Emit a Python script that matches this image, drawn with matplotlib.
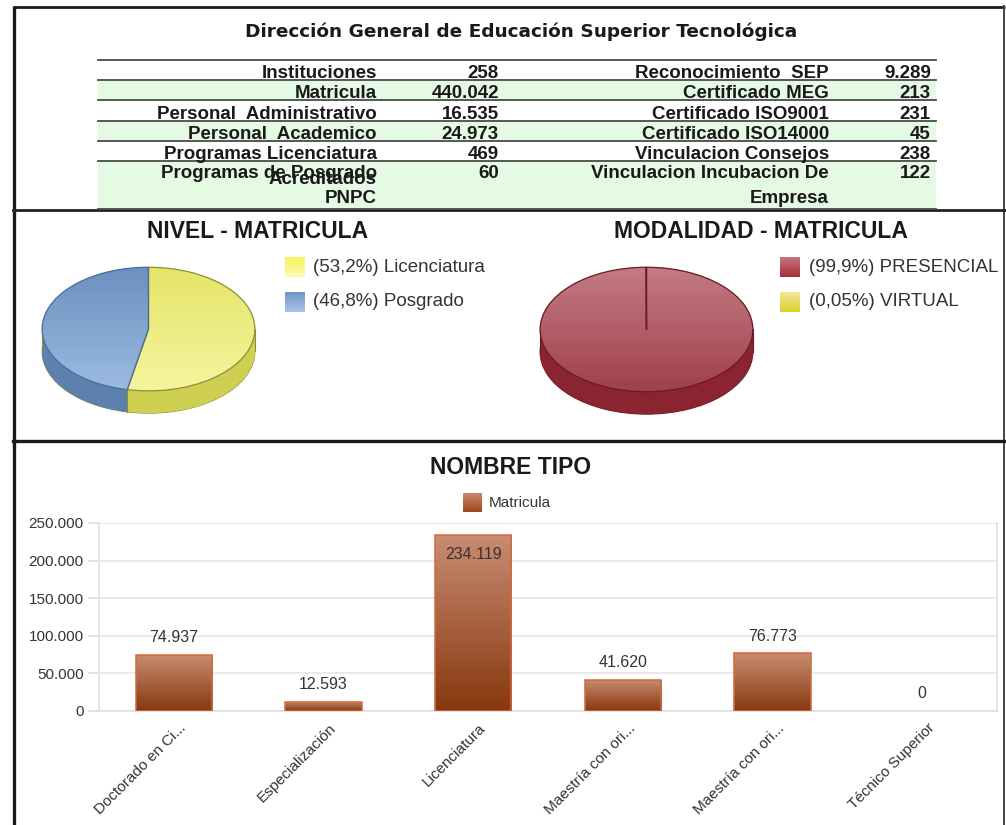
"""Tablero DGEST: tabla resumen, dos pasteles 3D y barras por tipo."""

import numpy as np
import matplotlib

matplotlib.use("Agg")
import matplotlib.pyplot as plt
import matplotlib.transforms as mtransforms
from matplotlib.colors import LinearSegmentedColormap
from matplotlib.patches import Rectangle

W, H = 1006, 825
DPI = 100

TITLE = "Dirección General de Educación Superior Tecnológica"
LEFT_LABELS = [
    "Instituciones",
    "Matricula",
    "Personal  Administrativo",
    "Personal  Academico",
    "Programas Licenciatura",
    "Programas de Posgrado\nAcreditados\nPNPC",
]
LEFT_VALUES = [258, 440042, 16535, 24973, 469, 60]
RIGHT_LABELS = [
    "Reconocimiento  SEP",
    "Certificado MEG",
    "Certificado ISO9001",
    "Certificado ISO14000",
    "Vinculacion Consejos",
    "Vinculacion Incubacion De\nEmpresa",
]
RIGHT_VALUES = [9289, 213, 231, 45, 238, 122]

NIVEL_LABELS = ["Licenciatura", "Posgrado"]
NIVEL_SHARE = [53.2, 46.8]
NIVEL_PCT = ["53,2%", "46,8%"]

MODALIDAD_LABELS = ["PRESENCIAL", "VIRTUAL"]
MODALIDAD_SHARE = [99.95, 0.05]
MODALIDAD_PCT = ["99,9%", "0,05%"]

TIPO_LABELS = [
    "Doctorado en Ci...",
    "Especialización",
    "Licenciatura",
    "Maestría con ori...",
    "Maestría con ori...",
    "Técnico Superior",
]
TIPO_VALUES = [74937, 12593, 234119, 41620, 76773, 0]

INK = "#1A1A1A"
TEXT = "#333333"
GREEN_ROW = "#E4FAE2"
RULE = "#4A4A4A"

NARROW = ["Liberation Sans Narrow", "Liberation Sans", "DejaVu Sans"]
ARIAL = ["Liberation Sans", "DejaVu Sans"]


def miles(v):
    return f"{v:,.0f}".replace(",", ".")


def px_axes(fig, x0, y0, x1, y1):
    return fig.add_axes([x0 / W, 1 - y1 / H, (x1 - x0) / W, (y1 - y0) / H])


def gradient_fill(ax, patch, top, bottom, extent, zorder):
    cmap = LinearSegmentedColormap.from_list("g", [bottom, top])
    im = ax.imshow(
        np.linspace(0, 1, 64).reshape(-1, 1),
        cmap=cmap,
        extent=extent,
        origin="lower",
        aspect="auto",
        interpolation="bilinear",
        zorder=zorder,
    )
    im.set_clip_path(patch)
    return im


def legend_square(ax, x, y, size, top, bottom):
    sq = Rectangle((x, y), size, size, facecolor="none", edgecolor="none",
                   linewidth=0, zorder=5)
    ax.add_patch(sq)
    gradient_fill(ax, sq, top, bottom, (x, x + size, y + size, y), zorder=4)


def pie_3d(ax, shares, top_cols, side_cols, edge_cols, depth=0.36):
    n_layers = 30
    for k in np.linspace(-depth, 0, n_layers):
        ax.pie(shares, colors=side_cols, startangle=90, counterclock=False,
               center=(0, k), wedgeprops=dict(linewidth=0, zorder=1))
    # outline of the base
    ax.pie(shares, colors=side_cols, startangle=90, counterclock=False,
           center=(0, -depth),
           wedgeprops=dict(linewidth=0.8, edgecolor=edge_cols[0], zorder=0.5))
    for side in (-1, 1):
        ax.plot([side, side], [0, -depth], color=edge_cols[0], lw=0.8, zorder=1.5)
    # visible slice seams on the front side
    ang = 90.0
    for s in shares:
        ang -= 360.0 * s / sum(shares)
        a = np.deg2rad(ang)
        if np.sin(a) < -0.05:
            ax.plot([np.cos(a)] * 2, [np.sin(a), np.sin(a) - depth],
                    color=edge_cols[0], lw=0.8, zorder=1.5)
    # top face with gradient
    wedges, _ = ax.pie(shares, colors=side_cols, startangle=90,
                       counterclock=False,
                       wedgeprops=dict(facecolor="none", linewidth=0.9, zorder=3))
    for w, (ct, cb), ce in zip(wedges, top_cols, edge_cols):
        w.set_edgecolor(ce)
        gradient_fill(ax, w, ct, cb, (-1.05, 1.05, -1.05, 1.05), zorder=2)
    ax.set_aspect("auto")
    ax.set_xlim(-1.02, 1.02)
    ax.set_ylim(-1 - depth - 0.03, 1.02)
    ax.axis("off")


fig = plt.figure(figsize=(W / DPI, H / DPI), dpi=DPI)
fig.patch.set_facecolor("white")

bg = fig.add_axes([0, 0, 1, 1])
bg.set_xlim(0, W)
bg.set_ylim(H, 0)
bg.axis("off")

# panel frames
bg.plot([14, 14], [6, H], color=INK, lw=2.4, solid_capstyle="butt")
bg.plot([13, 1005], [7, 7], color=INK, lw=2.0, solid_capstyle="butt")
bg.plot([1004, 1004], [6, H], color="#444444", lw=1.4)
bg.plot([13, 1005], [210, 210], color="#222222", lw=2.0)
bg.plot([13, 1005], [441, 441], color=INK, lw=2.4)

# ---- top table
bg.text(521, 32, TITLE, ha="center", va="center", fontsize=13.3,
        fontweight="bold", family=["DejaVu Sans"], color=INK)

row_lines = [60, 80, 100, 121, 141, 161, 209]
x_left, x_right = 98, 936
for i in range(len(LEFT_LABELS)):
    if i % 2 == 1:
        bg.add_patch(Rectangle((x_left, row_lines[i]), x_right - x_left,
                               row_lines[i + 1] - row_lines[i],
                               facecolor=GREEN_ROW, edgecolor="none", zorder=0))
for y in row_lines:
    bg.plot([x_left, x_right], [y, y], color=RULE, lw=1.3, zorder=2)

line_offsets = {1: [0], 2: [0, 25], 3: [0, 6, 25]}
cell_font = dict(fontsize=13.5, fontweight="bold", family=NARROW, color=INK,
                 va="baseline", ha="right", zorder=3)
columns = [(LEFT_LABELS, LEFT_VALUES, 377, 499),
           (RIGHT_LABELS, RIGHT_VALUES, 829, 931)]
for labels, values, x_lab, x_val in columns:
    for i, (lab, val) in enumerate(zip(labels, values)):
        parts = lab.split("\n")
        if len(parts) == 1:
            base = row_lines[i + 1] - 2
        else:
            base = row_lines[i] + 17
        for part, off in zip(parts, line_offsets[len(parts)]):
            bg.text(x_lab, base + off, part, **cell_font)
        bg.text(x_val, base, miles(val), **cell_font)

# ---- pies
title_font = dict(fontsize=16.5, fontweight="bold", family=ARIAL, color=INK,
                  ha="center", va="center")
legend_font = dict(fontsize=13.5, family=ARIAL, color=TEXT, ha="left",
                   va="center")

bg.text(258, 232, "NIVEL - MATRICULA", **title_font)
bg.text(761, 232, "MODALIDAD - MATRICULA", **title_font)

ax_nivel = px_axes(fig, 40, 266, 257, 415)
pie_3d(ax_nivel, NIVEL_SHARE,
       top_cols=[("#E5E566", "#F5F5A0"), ("#6B8FBF", "#9CBCE2")],
       side_cols=["#CFCF52", "#5C81AF"],
       edge_cols=["#8E8E3A", "#4A6C98"])
nivel_sq = [("#F4F45E", "#FBFBB4"), ("#6E96CA", "#AAC5E8")]
for k, (lab, pct, (ct, cb)) in enumerate(zip(NIVEL_LABELS, NIVEL_PCT, nivel_sq)):
    y0 = 257 + 35 * k
    legend_square(bg, 285, y0, 20, ct, cb)
    bg.text(313, y0 + 10, f"({pct}) {lab}", **legend_font)

ax_mod = px_axes(fig, 538, 266, 755, 416)
pie_3d(ax_mod, MODALIDAD_SHARE,
       top_cols=[("#C47C84", "#9F3F4B"), ("#EEE070", "#E0D030")],
       side_cols=["#8A2431", "#8A2431"],
       edge_cols=["#6A1A24", "#6A1A24"])
mod_sq = [("#C9747E", "#A42E3C"), ("#EEE89A", "#DED02A")]
for k, (lab, pct, (ct, cb)) in enumerate(zip(MODALIDAD_LABELS, MODALIDAD_PCT, mod_sq)):
    y0 = 257 + 35 * k
    legend_square(bg, 780, y0, 20, ct, cb)
    bg.text(809, y0 + 10, f"({pct}) {lab}", **legend_font)

# ---- bars
bg.text(511, 467, "NOMBRE TIPO", **title_font)
legend_square(bg, 463, 493, 19, "#CB8A6E", "#9E461C")
bg.text(489, 503, "Matricula", fontsize=11, family=ARIAL, color=TEXT,
        ha="left", va="center")

ax = px_axes(fig, 99, 523, 997, 711)
x = np.arange(len(TIPO_VALUES))
bars = ax.bar(x, TIPO_VALUES, width=0.51, facecolor="none",
              edgecolor="#D2693C", linewidth=1.1, zorder=3)
for bar, v in zip(bars, TIPO_VALUES):
    if v > 0:
        x0 = bar.get_x()
        gradient_fill(ax, bar, "#C88C72", "#88380F",
                      (x0, x0 + bar.get_width(), 0, v), zorder=2.9)
    else:
        bar.set_linewidth(0)

ymax = 250000
ax.set_xlim(-0.5, len(TIPO_VALUES) - 0.5)
ax.set_ylim(0, ymax)
ax.set_aspect("auto")
ax.set_yticks(np.arange(0, ymax + 1, 50000))
ax.yaxis.set_major_formatter(lambda v, _: miles(v))
ax.yaxis.grid(True, color="#E6E6E6", lw=1.2)
ax.set_axisbelow(True)
ax.tick_params(axis="y", length=8, width=1.2, color="#DDDDDD",
               labelsize=11, labelcolor=TEXT, pad=3)
ax.tick_params(axis="x", length=0, pad=7)
for lbl in ax.get_yticklabels():
    lbl.set_family(ARIAL)
ax.set_xticks(x)
ax.set_xticklabels(TIPO_LABELS, rotation=45, ha="right",
                   rotation_mode="anchor", fontsize=11, color=TEXT,
                   family=ARIAL)
shift = mtransforms.ScaledTranslation(5 / DPI, 0, fig.dpi_scale_trans)
for lbl in ax.get_xticklabels():
    lbl.set_transform(lbl.get_transform() + shift)
for side in ("left", "bottom", "right"):
    ax.spines[side].set_color("#E0E0E0")
    ax.spines[side].set_linewidth(1.2)
ax.spines["top"].set_visible(False)

for xi, v in zip(x, TIPO_VALUES):
    if v > ymax * 0.9:
        ax.annotate(miles(v), (xi, v), xytext=(0, -8.5), textcoords="offset points",
                    ha="center", va="top", fontsize=11.5, color=TEXT,
                    family=ARIAL, zorder=4)
    else:
        ax.annotate(miles(v), (xi, v), xytext=(0, 7), textcoords="offset points",
                    ha="center", va="bottom", fontsize=11.5, color=TEXT,
                    family=ARIAL, zorder=4)

fig.savefig("out.png", dpi=DPI, facecolor="white")
